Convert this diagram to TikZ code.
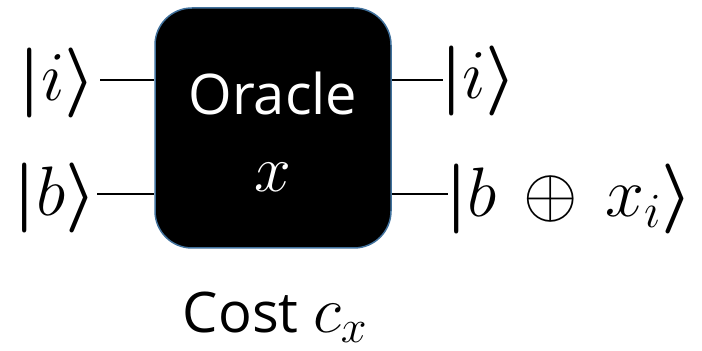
\RequirePackage{fix-cm}
\documentclass[tikz,border=0pt]{standalone}
\usepackage{fontspec}
\usepackage{amsmath}
\setsansfont{Open Sans}
\newcommand{\kbar}{\boldsymbol{|}}
\begin{document}
\begin{tikzpicture}[x=1pt,y=1pt,
  gate/.style={draw=boxblue, line width=1.5pt, fill=black, rounded corners=37pt,
    minimum width=236pt, minimum height=240pt, inner sep=0pt},
  wire/.style={line width=2pt, black},
  ket/.style={inner sep=0pt, font=\fontsize{70}{84}\selectfont},
  sanslbl/.style={inner sep=0pt, font=\sffamily\fontsize{56}{67}\selectfont}]
\definecolor{boxblue}{HTML}{41719C}
\useasboundingbox (0,0) rectangle (702,351);
\node[gate] (box) at (273,223) {};
\node[sanslbl, text=white, anchor=base] (orc) at (273,236) {Oracle};
\node[inner sep=0pt, anchor=base, font=\fontsize{66}{78}\selectfont, text=white] (xv) at (273,159) {$x$};
\node[sanslbl, anchor=base] (cost) at (275,18) {Cost {\fontsize{66}{78}\selectfont$c_x$}};
\node[ket, anchor=east] (li) at (96,267.5) {$\kbar i\boldsymbol{\rangle}$};
\node[ket, anchor=east] (lb) at (97,152.5) {$\kbar b\boldsymbol{\rangle}$};
\node[ket, anchor=west] (ri) at (440,269.5) {$\kbar i\boldsymbol{\rangle}$};
\node[ket, anchor=west] (rb) at (445,151.5) {$\kbar b\,\oplus\,x_i\boldsymbol{\rangle}$};
\coordinate (w1) at (0,271);
\coordinate (w2) at (0,157);
\draw[wire] ([xshift=4pt]li.east |- w1) -- (box.west |- w1);
\draw[wire] (lb.east |- w2) -- (box.west |- w2);
\draw[wire] (box.east |- w1) -- ([xshift=3pt]ri.west |- w1);
\draw[wire] (box.east |- w2) -- ([xshift=3pt]rb.west |- w2);
\end{tikzpicture}
\end{document}
